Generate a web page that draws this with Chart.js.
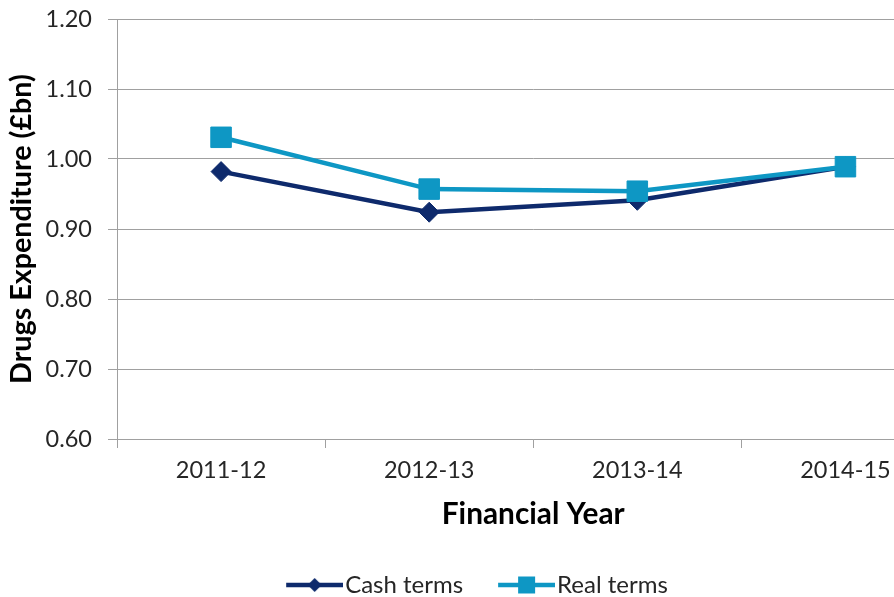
<!DOCTYPE html>
<html><head><meta charset="utf-8">
<script src="https://cdn.jsdelivr.net/npm/chart.js@4"></script>
<style>
html,body{margin:0;padding:0;overflow:hidden;background:#fff;width:894px;height:597px}
#wrap{width:965px;height:597px}
</style></head>
<body><div id="wrap"><canvas id="c" width="965" height="597"></canvas></div>
<script>
const categories = ['2011-12', '2012-13', '2013-14', '2014-15'];
const cashTerms = [0.982, 0.924, 0.941, 0.989];
const realTerms = [1.031, 0.957, 0.954, 0.989];
const yTickLabels = ['0.60', '0.70', '0.80', '0.90', '1.00', '1.10', '1.20'];
const seriesNames = ['Cash terms', 'Real terms'];

const NAVY = '#0E2A6C';
const BLUE = '#0E97C4';
const GRID = '#A0A0A0';
const TXT = '#262626';
const FONT = 'Lato, "Noto Sans", sans-serif';

function legendGlyph(color, shape) {
  const cv = document.createElement('canvas');
  cv.width = 92; cv.height = 24;
  const g = cv.getContext('2d');
  g.strokeStyle = color; g.fillStyle = color; g.lineWidth = 4.5;
  g.beginPath(); g.moveTo(35, 12); g.lineTo(92, 12); g.stroke();
  g.beginPath();
  const cx = 63.5;
  if (shape === 'diamond') {
    g.moveTo(cx, 5); g.lineTo(cx + 7, 12); g.lineTo(cx, 19); g.lineTo(cx - 7, 12); g.closePath();
  } else {
    g.rect(cx - 8.5, 3.5, 17, 17);
  }
  g.fill();
  return cv;
}
const glyphs = [legendGlyph(NAVY, 'diamond'), legendGlyph(BLUE, 'square')];

new Chart(document.getElementById('c'), {
  type: 'line',
  data: {
    labels: categories,
    datasets: [
      { label: seriesNames[0], data: cashTerms, borderColor: NAVY, backgroundColor: NAVY,
        borderWidth: 4.5, pointStyle: 'rectRot', pointRadius: 10, pointBorderWidth: 1,
        pointBackgroundColor: NAVY, pointBorderColor: NAVY, tension: 0, order: 0 },
      { label: seriesNames[1], data: realTerms, borderColor: BLUE, backgroundColor: BLUE,
        borderWidth: 4.5, pointStyle: 'rect', pointRadius: 14.5, pointBorderWidth: 1,
        pointBackgroundColor: BLUE, pointBorderColor: BLUE, tension: 0, order: -1 }
    ]
  },
  options: {
    responsive: false, animation: false, devicePixelRatio: 1,
    layout: { padding: { left: -30, right: 6, top: 19, bottom: -10 } },
    plugins: {
      tooltip: { enabled: false },
      legend: {
        position: 'bottom',
        labels: {
          usePointStyle: true, pointStyleWidth: 72, padding: 10,
          color: TXT, font: { family: FONT, size: 24 },
          generateLabels: (chart) => chart.data.datasets.map((ds, i) => ({
            text: ds.label, pointStyle: glyphs[i], fillStyle: ds.borderColor,
            strokeStyle: ds.borderColor, lineWidth: 0, hidden: false, datasetIndex: i, fontColor: TXT
          }))
        }
      }
    },
    scales: {
      x: {
        type: 'category', offset: true,
        afterFit: (s) => { s.height = 124; s.paddingLeft = 0; s.paddingRight = 0; },
        grid: { offset: true, drawOnChartArea: false, drawTicks: true, tickLength: 9, color: GRID, lineWidth: 1 },
        border: { color: GRID, width: 1 },
        ticks: { color: TXT, font: { family: FONT, size: 23.5 }, padding: 8, maxRotation: 0 },
        title: { display: true, text: 'Financial Year', color: '#000',
          font: { family: FONT, size: 29.8, weight: 'bold' }, padding: { top: 4, bottom: 30.3 } }
      },
      y: {
        min: 0.6, max: 1.2,
        afterFit: (s) => { s.width = 147; s.paddingTop = 0; s.paddingBottom = 0; },
        grid: { color: GRID, lineWidth: 1, drawTicks: true, tickLength: 9 },
        border: { color: GRID, width: 1 },
        ticks: { stepSize: 0.1, color: TXT, font: { family: FONT, size: 23.5 }, padding: 16,
          callback: (v) => yTickLabels[Math.round((v - 0.6) * 10)] },
        title: { display: true, text: 'Drugs Expenditure (£bn)', color: '#000',
          font: { family: FONT, size: 28.7, weight: 'bold' }, padding: { top: 34.8, bottom: 0 } }
      }
    }
  }
});
</script>
</body></html>
